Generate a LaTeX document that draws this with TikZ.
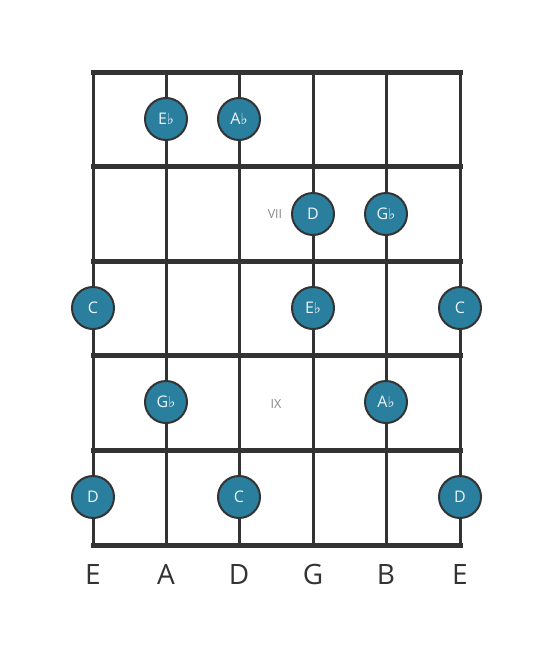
\documentclass[tikz,border=0pt]{standalone}
\usepackage{fontspec}
\setmainfont{Open Sans}
\newfontfamily\flatfont{DejaVu Sans}
\newcommand{\fl}{{\flatfont\fontsize{15}{15}\selectfont ♭}}
\definecolor{lineclr}{RGB}{51,51,51}
\definecolor{dotclr}{RGB}{42,127,158}
\definecolor{dottxt}{RGB}{236,246,250}
\definecolor{romclr}{RGB}{136,136,136}
\begin{document}
\begin{tikzpicture}[x=1pt,y=-1pt,
  fretline/.style={draw=lineclr,line width=5pt,line cap=rect},
  stringline/.style={draw=lineclr,line width=3pt},
  notedot/.style={circle,draw=lineclr,line width=2pt,fill=dotclr,minimum size=42pt,inner sep=0pt,text=dottxt,font=\fontsize{16}{16}\selectfont},
  roman/.style={text=romclr,font=\fontsize{12.5}{12.5}\selectfont},
  strlabel/.style={text=lineclr,font=\fontsize{28}{28}\selectfont}]
\useasboundingbox (0,0) rectangle (553,656);
\fill[white] (0,0) rectangle (553,656);
% string coordinates
\foreach \n/\x in {1/93,2/166,3/239,4/313,5/386,6/460}{
  \coordinate (st\n) at (\x,72);
  \coordinate (sb\n) at (\x,545);
}
\foreach \n in {1,...,6}{ \draw[stringline] (st\n) -- (sb\n); }
% frets
\foreach \f/\y in {0/72,1/166,2/261,3/355,4/450,5/545}{
  \coordinate (fl\f) at (93,\y);
  \coordinate (fr\f) at (460,\y);
  \draw[fretline] (fl\f) -- (fr\f);
}
% position markers
\node[roman] (vii) at (275,214) {VII};
\node[roman] (ix) at (276,404) {IX};
% notes
\node[notedot] (n1) at (166,119) {E\fl};
\node[notedot] (n2) at (239,119) {A\fl};
\node[notedot] (n3) at (313,214) {D};
\node[notedot] (n4) at (386,214) {G\fl};
\node[notedot] (n5) at (93,308) {C};
\node[notedot] (n6) at (313,308) {E\fl};
\node[notedot] (n7) at (460,308) {C};
\node[notedot] (n8) at (166,402) {G\fl};
\node[notedot] (n9) at (386,402) {A\fl};
\node[notedot] (n10) at (93,497) {D};
\node[notedot] (n11) at (239,497) {C};
\node[notedot] (n12) at (460,497) {D};
% string names
\foreach \n/\x/\s in {1/93/E,2/166/A,3/239/D,4/313/G,5/386/B,6/460/E}{
  \node[strlabel] (lab\n) at (\x,574) {\s};
}
\end{tikzpicture}
\end{document}
